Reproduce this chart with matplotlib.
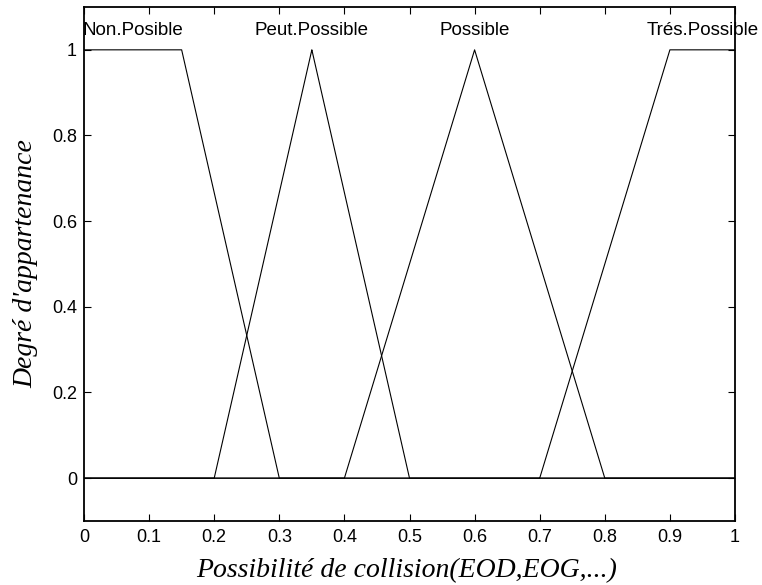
import numpy as np
import matplotlib
matplotlib.use("Agg")
import matplotlib.pyplot as plt

# Membership function definitions (x breakpoints)
mf_names = ["Non.Posible", "Peut.Possible", "Possible", "Trés.Possible"]
mf_params = [
    [0.0, 0.0, 0.15, 0.30],   # trapezoid
    [0.20, 0.35, 0.35, 0.50], # triangle
    [0.40, 0.60, 0.60, 0.80], # triangle
    [0.70, 0.90, 1.00, 1.00], # trapezoid
]
x_ticks = [0, 0.1, 0.2, 0.3, 0.4, 0.5, 0.6, 0.7, 0.8, 0.9, 1]
y_ticks = [0, 0.2, 0.4, 0.6, 0.8, 1]


def trapmf(x, a, b, c, d):
    y = np.zeros_like(x)
    y[(x >= b) & (x <= c)] = 1.0
    if b > a:
        m = (x > a) & (x < b)
        y[m] = (x[m] - a) / (b - a)
    if d > c:
        m = (x > c) & (x < d)
        y[m] = (d - x[m]) / (d - c)
    return y


fig = plt.figure(figsize=(7.62, 5.85), dpi=100)
ax = fig.add_axes([84 / 762, 1 - 521 / 585, (735 - 84) / 762, (521 - 7) / 585])

for name, p in zip(mf_names, mf_params):
    x = np.unique(np.concatenate([np.linspace(0, 1, 181), p]))
    y = trapmf(x, *p)
    ax.plot(x, y, color="black", lw=0.8)
    xc = (p[1] + p[2]) / 2
    ax.text(xc, 1.045, name, ha="center", va="center",
            fontsize=13.5, family="Liberation Sans")

ax.set_xlim(0, 1)
ax.set_ylim(-0.1, 1.1)
ax.set_xticks(x_ticks)
ax.set_xticklabels([f"{t:g}" for t in x_ticks])
ax.set_yticks(y_ticks)
ax.set_yticklabels([f"{t:g}" for t in y_ticks])
ax.tick_params(direction="in", top=True, right=True, length=5, width=0.8,
               labelsize=13)
ax.tick_params(axis="x", pad=6)
ax.tick_params(axis="y", pad=5)
for lab in ax.get_xticklabels() + ax.get_yticklabels():
    lab.set_family("Liberation Sans")
for s in ax.spines.values():
    s.set_linewidth(1.3)

ax.set_xlabel("Possibilité de collision(EOD,EOG,...)", fontsize=20,
              family="Liberation Serif", style="italic")
ax.set_ylabel("Degré d'appartenance", fontsize=20,
              family="Liberation Serif", style="italic")
ax.xaxis.set_label_coords(0.496, -0.097)
ax.xaxis.label.set_va("center")
ax.yaxis.set_label_coords(-0.089, 0.5)
ax.yaxis.label.set_va("center")

fig.savefig("out.png", dpi=100)
